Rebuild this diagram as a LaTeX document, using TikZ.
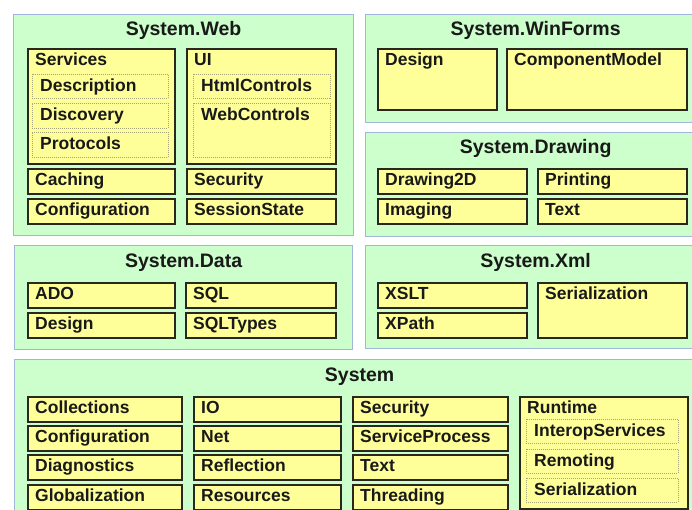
\documentclass[tikz,border=0pt]{standalone}
\usepackage{fontspec}
\setmainfont{Liberation Sans}

\definecolor{panelfill}{RGB}{204,255,204}
\definecolor{paneledge}{RGB}{160,182,218}
\definecolor{pkgfill}{RGB}{255,255,153}
\definecolor{pkgedge}{RGB}{40,40,30}
\definecolor{subedge}{RGB}{165,165,120}
\definecolor{ink}{RGB}{25,25,25}

\tikzset{
  wh/.style 2 args={minimum width=#1pt, minimum height=#2pt},
  panel/.style={draw=paneledge, fill=panelfill, line width=1.2pt, anchor=north west, inner sep=0pt, label distance=0pt},
  pkg/.style={draw=pkgedge, fill=pkgfill, line width=1.6pt, anchor=north west, inner sep=0pt, label distance=0pt},
  subpkg/.style={draw=subedge, fill=pkgfill, line width=0.8pt, dash pattern=on 1pt off 1pt, anchor=north west, inner sep=0pt, label distance=0pt},
  ttl/.style={anchor=base, yshift=-22pt, inner sep=0pt, text=ink, font=\bfseries\fontsize{19.5}{22}\selectfont},
  lbl/.style={anchor=base west, xshift=8pt, yshift=-17.5pt, inner sep=0pt, text=ink, font=\bfseries\fontsize{17.5}{20}\selectfont},
}

\begin{document}
\begin{tikzpicture}[x=1pt, y=-1pt]

            \useasboundingbox (0,0) rectangle (692,510);

            % System.Web

            \node[panel, wh={340}{221}, label={[ttl]north:System.Web}] (web) at (13,14) {};
            \node[pkg, wh={147}{115}, label={[lbl]north west:Services}] (services) at (27,48) {};
            \node[subpkg, wh={136}{24}, label={[lbl]north west:Description}] (description) at (32,74) {};
            \node[subpkg, wh={136}{25}, label={[lbl]north west:Discovery}] (discovery) at (32,103) {};
            \node[subpkg, wh={136}{25}, label={[lbl]north west:Protocols}] (protocols) at (32,132) {};
            \node[pkg, wh={149}{115}, label={[lbl]north west:UI}] (ui) at (186,48) {};
            \node[subpkg, wh={137}{24}, label={[lbl]north west:HtmlControls}] (htmlcontrols) at (193,74) {};
            \node[subpkg, wh={137}{54}, label={[lbl]north west:WebControls}] (webcontrols) at (193,103) {};
            \node[pkg, wh={147}{25}, label={[lbl]north west:Caching}] (caching) at (27,168) {};
            \node[pkg, wh={147}{25}, label={[lbl]north west:Configuration}] (webconfig) at (27,198) {};
            \node[pkg, wh={149}{25}, label={[lbl]north west:Security}] (websecurity) at (186,168) {};
            \node[pkg, wh={149}{25}, label={[lbl]north west:SessionState}] (sessionstate) at (186,198) {};

            % System.WinForms

            \node[panel, wh={340}{108}, label={[ttl]north:System.WinForms}] (winforms) at (365,14) {};
            \node[pkg, wh={119}{61}, label={[lbl]north west:Design}] (formsdesign) at (377,48) {};
            \node[pkg, wh={180}{61}, label={[lbl]north west:ComponentModel}] (componentmodel) at (506,48) {};

            % System.Drawing

            \node[panel, wh={340}{104}, label={[ttl]north:System.Drawing}] (drawing) at (365,132) {};
            \node[pkg, wh={149}{25}, label={[lbl]north west:Drawing2D}] (drawing2d) at (377,168) {};
            \node[pkg, wh={149}{25}, label={[lbl]north west:Imaging}] (imaging) at (377,198) {};
            \node[pkg, wh={149}{25}, label={[lbl]north west:Printing}] (printing) at (537,168) {};
            \node[pkg, wh={149}{25}, label={[lbl]north west:Text}] (drawtext) at (537,198) {};

            % System.Data

            \node[panel, wh={338}{104}, label={[ttl]north:System.Data}] (data) at (14,245) {};
            \node[pkg, wh={147}{25}, label={[lbl]north west:ADO}] (ado) at (27,282) {};
            \node[pkg, wh={147}{25}, label={[lbl]north west:Design}] (datadesign) at (27,312) {};
            \node[pkg, wh={150}{25}, label={[lbl]north west:SQL}] (sql) at (185,282) {};
            \node[pkg, wh={150}{25}, label={[lbl]north west:SQLTypes}] (sqltypes) at (185,312) {};

            % System.Xml

            \node[panel, wh={340}{103}, label={[ttl]north:System.Xml}] (xml) at (365,245) {};
            \node[pkg, wh={149}{25}, label={[lbl]north west:XSLT}] (xslt) at (377,282) {};
            \node[pkg, wh={149}{25}, label={[lbl]north west:XPath}] (xpath) at (377,312) {};
            \node[pkg, wh={149}{55}, label={[lbl]north west:Serialization}] (xmlserial) at (537,282) {};

            % System

            \node[panel, wh={690}{170}, label={[ttl]north:System}] (sys) at (14,359) {};
            \node[pkg, wh={154}{25}, label={[lbl]north west:Collections}] (collections) at (27,396) {};
            \node[pkg, wh={154}{25}, label={[lbl]north west:Configuration}] (sysconfig) at (27,425) {};
            \node[pkg, wh={154}{25}, label={[lbl]north west:Diagnostics}] (diagnostics) at (27,454) {};
            \node[pkg, wh={154}{25}, label={[lbl]north west:Globalization}] (globalization) at (27,484) {};
            \node[pkg, wh={147}{25}, label={[lbl]north west:IO}] (io) at (193,396) {};
            \node[pkg, wh={147}{25}, label={[lbl]north west:Net}] (net) at (193,425) {};
            \node[pkg, wh={147}{25}, label={[lbl]north west:Reflection}] (reflection) at (193,454) {};
            \node[pkg, wh={147}{25}, label={[lbl]north west:Resources}] (resources) at (193,484) {};
            \node[pkg, wh={155}{25}, label={[lbl]north west:Security}] (syssecurity) at (352,396) {};
            \node[pkg, wh={155}{25}, label={[lbl]north west:ServiceProcess}] (serviceprocess) at (352,425) {};
            \node[pkg, wh={155}{25}, label={[lbl]north west:Text}] (systext) at (352,454) {};
            \node[pkg, wh={155}{25}, label={[lbl]north west:Threading}] (threading) at (352,484) {};
            \node[pkg, wh={168}{112}, label={[lbl]north west:Runtime}] (runtime) at (519,396) {};
            \node[subpkg, wh={152}{24}, label={[lbl]north west:InteropServices}] (interop) at (526,419) {};
            \node[subpkg, wh={152}{24}, label={[lbl]north west:Remoting}] (remoting) at (526,449) {};
            \node[subpkg, wh={152}{24}, label={[lbl]north west:Serialization}] (rtserial) at (526,478) {};

\end{tikzpicture}
\end{document}
